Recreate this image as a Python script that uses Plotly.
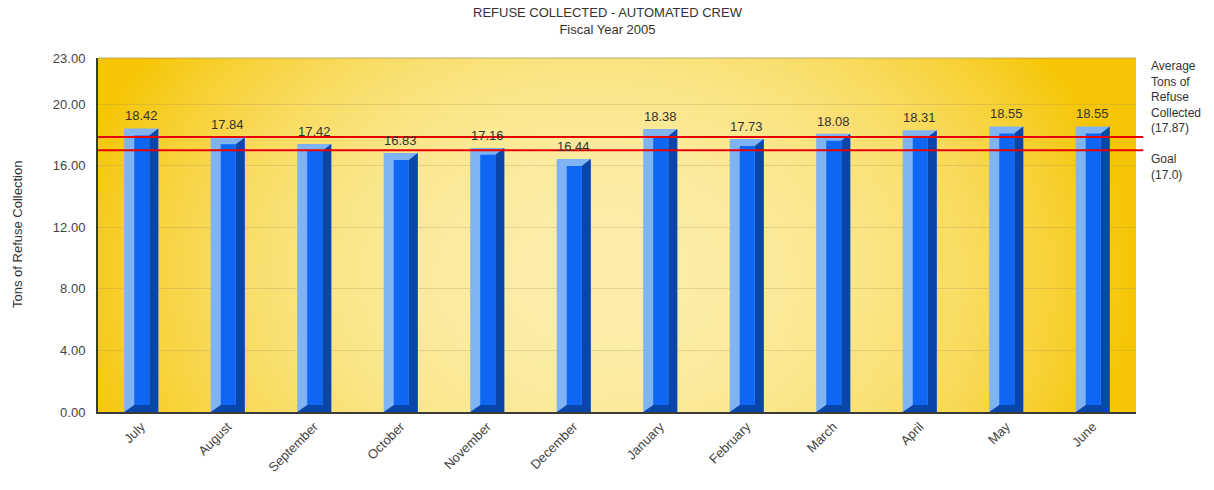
import base64
import struct
import zlib

import numpy as np
import plotly.graph_objects as go

# Monthly tons of refuse collected per automated crew, fiscal year 2005
months = ["July", "August", "September", "October", "November", "December",
          "January", "February", "March", "April", "May", "June"]
tons = [18.42, 17.84, 17.42, 16.83, 17.16, 16.44,
        18.38, 17.73, 18.08, 18.31, 18.55, 18.55]
average_tons = 17.87
goal_tons = 17.0
y_ticks = [0, 4, 8, 12, 16, 20, 23]

LIGHT = "#7fb3f4"
MID = "#0e66f2"
DARK = "#0a46aa"
TEXT = "#333333"
FONT = "Liberation Sans, Arial, sans-serif"

# Bevelled bar geometry (x in category units, y in tons)
HALF_W = 0.197
BEVEL_L = 0.116
BEVEL_R = 0.104
BEVEL_T = 0.45
BEVEL_B = 0.45


def gradient_png(w=300, h=140):
    """Gold-to-cream radial gradient used as the plot background."""
    xs = np.linspace(0, 1, w)[None, :]
    ys = np.linspace(0, 1, h)[:, None]
    d = np.sqrt(((xs - 0.48) / 0.52) ** 2 + ((ys - 0.62) / 1.15) ** 2)
    t = np.clip(d, 0, 1) ** 2.2
    centre = np.array([252, 238, 170], dtype=float)
    edge = np.array([246, 198, 6], dtype=float)
    img = centre[None, None, :] * (1 - t[..., None]) + edge[None, None, :] * t[..., None]
    img = img.astype(np.uint8)
    raw = b"".join(b"\x00" + img[r].tobytes() for r in range(h))

    def chunk(tag, data):
        c = struct.pack(">I", len(data)) + tag + data
        return c + struct.pack(">I", zlib.crc32(tag + data) & 0xFFFFFFFF)

    png = b"\x89PNG\r\n\x1a\n"
    png += chunk(b"IHDR", struct.pack(">IIBBBBB", w, h, 8, 2, 0, 0, 0))
    png += chunk(b"IDAT", zlib.compress(raw, 9))
    png += chunk(b"IEND", b"")
    return "data:image/png;base64," + base64.b64encode(png).decode()


idx = list(range(len(months)))

# Dark right/bottom bevel and inner front face, one polygon per bar
dark_x, dark_y, face_x, face_y = [], [], [], []
for i, v in zip(idx, tons):
    left, right = i - HALF_W, i + HALF_W
    il, ir = left + BEVEL_L, right - BEVEL_R
    it, ib = v - BEVEL_T, BEVEL_B
    dark_x += [left, right, right, ir, ir, il, left, None]
    dark_y += [0, 0, v, it, ib, ib, 0, None]
    face_x += [il, ir, ir, il, il, None]
    face_y += [ib, ib, it, it, ib, None]

fig = go.Figure()
fig.add_trace(go.Bar(x=idx, y=tons, width=2 * HALF_W, marker=dict(color=LIGHT, line=dict(width=0)),
                     hoverinfo="skip", showlegend=False))
fig.add_trace(go.Scatter(x=dark_x, y=dark_y, mode="lines", fill="toself", fillcolor=DARK,
                         line=dict(width=0, color=DARK), hoverinfo="skip", showlegend=False))
fig.add_trace(go.Scatter(x=face_x, y=face_y, mode="lines", fill="toself", fillcolor=MID,
                         line=dict(width=0, color=MID), hoverinfo="skip", showlegend=False))

# Value labels above each bar
for i, v in zip(idx, tons):
    fig.add_annotation(x=i, y=v, text=f"{v:.2f}", showarrow=False, yanchor="bottom", yshift=3,
                       font=dict(family=FONT, size=13, color=TEXT))

# Average and goal reference lines
for level in (average_tons, goal_tons):
    fig.add_shape(type="line", xref="paper", yref="y", x0=0, x1=1.007, y0=level, y1=level,
                  line=dict(color="#e60000", width=2), layer="above")

# Thin top border of the plot area
fig.add_shape(type="line", xref="paper", yref="paper", x0=0, x1=1, y0=1, y1=1,
              line=dict(color="rgba(150,130,70,0.6)", width=1), layer="above")

fig.add_layout_image(dict(source=gradient_png(), xref="paper", yref="paper", x=0, y=1,
                          sizex=1, sizey=1, xanchor="left", yanchor="top",
                          sizing="stretch", layer="below"))

fig.add_annotation(text="REFUSE COLLECTED - AUTOMATED CREW<br>Fiscal Year 2005",
                   xref="paper", x=0.491, yref="paper", y=1, yshift=19,
                   xanchor="center", yanchor="bottom", showarrow=False,
                   font=dict(family=FONT, size=13, color=TEXT))
fig.add_annotation(text="Average<br>Tons of<br>Refuse<br>Collected<br>(" + f"{average_tons:.2f}" + ")",
                   xref="paper", x=1, xshift=13, yref="y", y=average_tons, yanchor="bottom",
                   xanchor="left", align="left", showarrow=False,
                   font=dict(family=FONT, size=12, color=TEXT))
fig.add_annotation(text="Goal<br>(" + f"{goal_tons:.1f}" + ")",
                   xref="paper", x=1, xshift=13, yref="y", y=goal_tons, yanchor="top",
                   xanchor="left", align="left", showarrow=False,
                   font=dict(family=FONT, size=12, color=TEXT))
fig.add_annotation(text="Tons of Refuse Collection", textangle=-90,
                   xref="paper", x=0, xshift=-81, yref="paper", y=0.5,
                   xanchor="center", yanchor="middle", showarrow=False,
                   font=dict(family=FONT, size=13, color=TEXT))

fig.update_layout(
    width=1214, height=490,
    margin=dict(l=98, r=78, t=58, b=78),
    paper_bgcolor="white", plot_bgcolor="rgba(0,0,0,0)",
    barmode="overlay",
    xaxis=dict(range=[-0.5, 11.5], tickvals=idx, ticktext=months, tickangle=-45,
               showgrid=False, zeroline=False, showline=True, linecolor="#3a3a3a", linewidth=2,
               ticks="", tickfont=dict(family=FONT, size=13, color="#444444")),
    yaxis=dict(range=[0, 23], tickvals=y_ticks, tickformat=".2f",
               showgrid=True, gridcolor="rgba(170,150,90,0.3)", gridwidth=1,
               zeroline=False, showline=True, linecolor="#3a3a3a", linewidth=2,
               ticks="", ticklabelstandoff=8,
               tickfont=dict(family=FONT, size=13, color="#444444")),
)

fig.write_html("out.html")
